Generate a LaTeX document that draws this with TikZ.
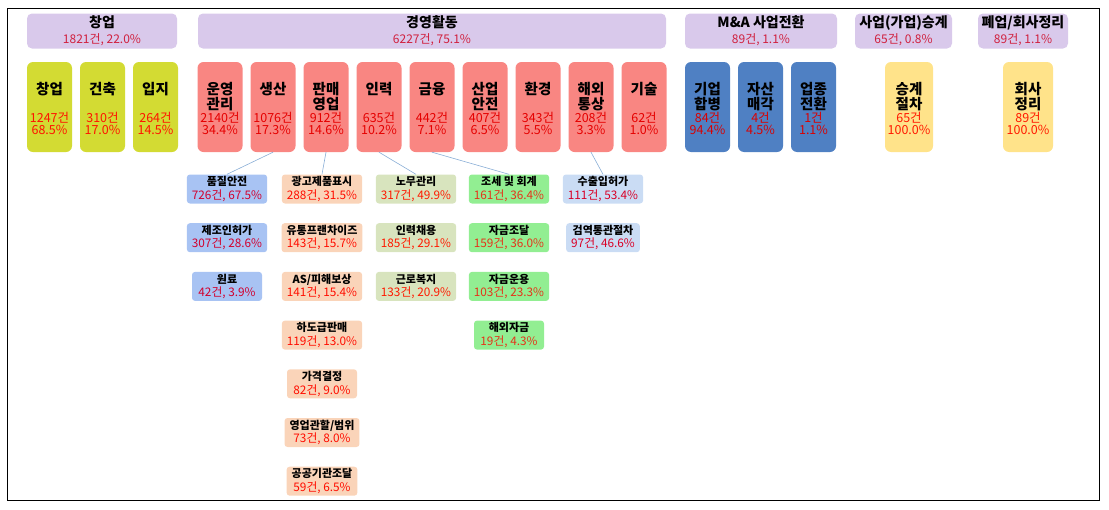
\documentclass[tikz,border=0pt]{standalone}
\usepackage{fontspec}
\setmainfont{Noto Sans CJK KR}

\definecolor{headfill}{HTML}{D9C9EB}
\definecolor{headnum}{HTML}{D0203E}
\definecolor{startfill}{HTML}{D3DB33}
\definecolor{mgmtfill}{HTML}{F98682}
\definecolor{mnafill}{HTML}{4F80C3}
\definecolor{closefill}{HTML}{FFE38A}
\definecolor{prodfill}{HTML}{A8C3F3}
\definecolor{salefill}{HTML}{FAD4B9}
\definecolor{laborfill}{HTML}{D8E4BE}
\definecolor{finfill}{HTML}{92EE92}
\definecolor{tradefill}{HTML}{CADCF4}
\definecolor{linkcol}{HTML}{8AAED6}

\newcommand{\headtext}[2]{{\bfseries\fontsize{14}{16}\selectfont #1}\\\textcolor{headnum}{#2}}
\newcommand{\areatext}[3]{\parbox[c][56pt][t]{44pt}{\centering
  \vspace*{3.5pt}{\fontsize{14.5}{14.5}\selectfont\bfseries #1\par}\vfill
  \textcolor{numcol}{#2}\\\textcolor{numcol}{#3}}}
\newcommand{\leaftext}[2]{\textbf{#1}\\\textcolor{numcol}{\fontsize{11.8}{13.5}\selectfont #2}}

\begin{document}
\begin{tikzpicture}[x=1pt,y=-1pt,
    head/.style={rectangle,rounded corners=5pt,fill=headfill,minimum height=35pt,
      inner sep=1pt,align=center,font=\fontsize{12}{16}\selectfont},
    area/.style={rectangle,rounded corners=6pt,minimum width=45pt,minimum height=90pt,
      inner sep=0pt,font=\fontsize{12.5}{12}\selectfont},
    leaf/.style={rectangle,rounded corners=3pt,minimum width=70pt,minimum height=29pt,
      inner xsep=5pt,inner ysep=1pt,align=center,font=\fontsize{11}{13.5}\selectfont},
    nums/.style={execute at begin node={\colorlet{numcol}{#1}}},
    startbox/.style={area,fill=startfill,nums=red!85!orange},
    mgmtbox/.style={area,fill=mgmtfill,nums=red!90!black},
    mnabox/.style={area,fill=mnafill,nums=red!85!black},
    closebox/.style={area,fill=closefill,nums=red!80!orange},
    prodbox/.style={leaf,fill=prodfill,nums=purple!70!red},
    salebox/.style={leaf,fill=salefill,nums=red!90!orange},
    laborbox/.style={leaf,fill=laborfill,nums=red!80!orange},
    finbox/.style={leaf,fill=finfill,nums=red!60!brown},
    tradebox/.style={leaf,fill=tradefill,nums=purple!60!red},
    link/.style={draw=linkcol,line width=0.6pt},
    node distance=53pt]

  \useasboundingbox (0,0) rectangle (1109,509);
  \draw[line width=0.8pt] (7,8) rectangle (1099,500);

  % top groups
  \node[head,minimum width=150pt] (h-start) at (102,31) {\headtext{창업}{1821건, 22.0\%}};
  \node[head,minimum width=468pt] (h-mgmt) at (432,31) {\headtext{경영활동}{6227건, 75.1\%}};
  \node[head,minimum width=152pt] (h-mna) at (761,31) {\headtext{M\&A 사업전환}{89건, 1.1\%}};
  \node[head,minimum width=97pt] (h-succ) at (903.5,31) {\headtext{사업(가업)승계}{65건, 0.8\%}};
  \node[head,minimum width=90pt] (h-close) at (1023,31) {\headtext{폐업/회사정리}{89건, 1.1\%}};

  % areas
  \node[startbox] (changup) at (49.5,107) {\areatext{창업}{1247건}{68.5\%}};
  \node[startbox] (geonchuk) [right of=changup] {\areatext{건축}{310건}{17.0\%}};
  \node[startbox] (ipji) [right of=geonchuk] {\areatext{입지}{264건}{14.5\%}};

  \node[mgmtbox] (unyeong) at (220,107) {\areatext{운영\\관리}{2140건}{34.4\%}};
  \node[mgmtbox] (saengsan) [right of=unyeong] {\areatext{생산}{1076건}{17.3\%}};
  \node[mgmtbox] (panmae) [right of=saengsan] {\areatext{판매\\영업}{912건}{14.6\%}};
  \node[mgmtbox] (inryeok) [right of=panmae] {\areatext{인력}{635건}{10.2\%}};
  \node[mgmtbox] (geumyung) [right of=inryeok] {\areatext{금융}{442건}{7.1\%}};
  \node[mgmtbox] (saneop) [right of=geumyung] {\areatext{산업\\안전}{407건}{6.5\%}};
  \node[mgmtbox] (hwangyeong) [right of=saneop] {\areatext{환경}{343건}{5.5\%}};
  \node[mgmtbox] (haeoe) [right of=hwangyeong] {\areatext{해외\\통상}{208건}{3.3\%}};
  \node[mgmtbox] (gisul) [right of=haeoe] {\areatext{기술}{62건}{1.0\%}};

  \node[mnabox] (hapbyeong) at (707.5,107) {\areatext{기업\\합병}{84건}{94.4\%}};
  \node[mnabox] (maegak) [right of=hapbyeong] {\areatext{자산\\매각}{4건}{4.5\%}};
  \node[mnabox] (jeonhwan) [right of=maegak] {\areatext{업종\\전환}{1건}{1.1\%}};

  \node[closebox,minimum width=48pt] (seunggye) at (909,107) {\areatext{승계\\절차}{65건}{100.0\%}};
  \node[closebox,minimum width=50pt] (jeongri) at (1028,107) {\areatext{회사\\정리}{89건}{100.0\%}};

  % details
  \begin{scope}[node distance=48.7pt]
    \node[prodbox] (pumjil) at (227,189) {\leaftext{품질안전}{726건, 67.5\%}};
    \node[prodbox] (jejo) [below of=pumjil] {\leaftext{제조인허가}{307건, 28.6\%}};
    \node[prodbox] (wollyo) [below of=jejo] {\leaftext{원료}{42건, 3.9\%}};

    \node[salebox] (gwanggo) at (322,189) {\leaftext{광고제품표시}{288건, 31.5\%}};
    \node[salebox] (yutong) [below of=gwanggo] {\leaftext{유통프랜차이즈}{143건, 15.7\%}};
    \node[salebox] (pihae) [below of=yutong] {\leaftext{AS/피해보상}{141건, 15.4\%}};
    \node[salebox] (hadogeup) [below of=pihae] {\leaftext{하도급판매}{119건, 13.0\%}};
    \node[salebox] (gagyeok) [below of=hadogeup] {\leaftext{가격결정}{82건, 9.0\%}};
    \node[salebox] (gwanhal) [below of=gagyeok] {\leaftext{영업관할/범위}{73건, 8.0\%}};
    \node[salebox] (gonggong) [below of=gwanhal] {\leaftext{공공기관조달}{59건, 6.5\%}};

    \node[laborbox] (nomu) at (416,189) {\leaftext{노무관리}{317건, 49.9\%}};
    \node[laborbox] (chaeyong) [below of=nomu] {\leaftext{인력채용}{185건, 29.1\%}};
    \node[laborbox] (bokji) [below of=chaeyong] {\leaftext{근로복지}{133건, 20.9\%}};

    \node[finbox] (jose) at (509,189) {\leaftext{조세 및 회계}{161건, 36.4\%}};
    \node[finbox] (jodal) [below of=jose] {\leaftext{자금조달}{159건, 36.0\%}};
    \node[finbox] (jageum) [below of=jodal] {\leaftext{자금운용}{103건, 23.3\%}};
    \node[finbox] (haeoejageum) [below of=jageum] {\leaftext{해외자금}{19건, 4.3\%}};

    \node[tradebox] (suchul) at (603,189) {\leaftext{수출입허가}{111건, 53.4\%}};
    \node[tradebox] (geomyeok) [below of=suchul] {\leaftext{검역통관절차}{97건, 46.6\%}};
  \end{scope}

  \path[link] (saengsan.south) edge (pumjil.north)
    (panmae.south) edge (gwanggo.north)
    (inryeok.south) edge (nomu.north)
    (geumyung.south) edge (jose.north)
    (haeoe.south) edge (suchul.north);

\end{tikzpicture}
\end{document}
